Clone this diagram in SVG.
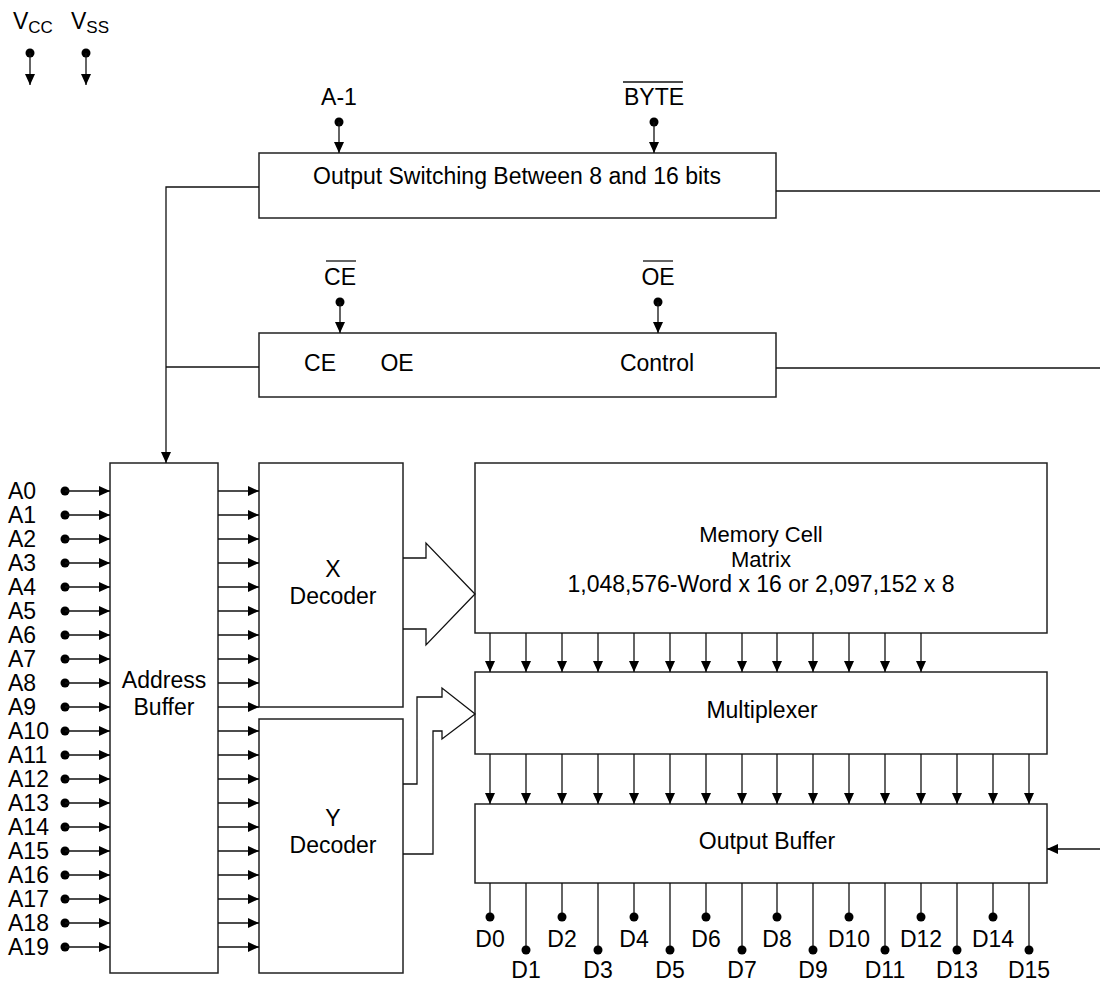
<svg xmlns="http://www.w3.org/2000/svg" width="1100" height="985" viewBox="0 0 1100 985">
<style>
.box{fill:#fff;stroke:#222;stroke-width:1.5}
.ln{fill:none;stroke:#111;stroke-width:1.3}
.ar{fill:none;stroke:#111;stroke-width:1.3;marker-end:url(#ah)}
.dot{fill:#000}
text{font-family:"Liberation Sans",Arial,sans-serif;font-size:23px;fill:#000}
.c{text-anchor:middle}
text.m{font-size:22px}
</style>
<defs>
<marker id="ah" markerUnits="userSpaceOnUse" markerWidth="12" markerHeight="12" viewBox="0 0 12 12" refX="11" refY="6" orient="auto">
<path d="M0,1 L11,6 L0,11 Z" fill="#000"/>
</marker>
</defs>
<rect width="1100" height="985" fill="#fff"/>

<g id="power">
<text x="13" y="29" font-size="25">V<tspan font-size="17" dy="4">CC</tspan></text>
<text x="71" y="29" font-size="25">V<tspan font-size="17" dy="4">SS</tspan></text>
<circle class="dot" cx="30" cy="53" r="4.5"/>
<circle class="dot" cx="86" cy="53" r="4.5"/>
<line class="ar" x1="30" y1="53" x2="30" y2="85"/>
<line class="ar" x1="86" y1="53" x2="86" y2="85"/>
</g>

<g id="output-switching">
<rect class="box" x="259" y="153" width="517" height="65"/>
<text class="c" x="517" y="184">Output Switching Between 8 and 16 bits</text>
<text class="c" x="339" y="105">A-1</text>
<circle class="dot" cx="339" cy="122" r="4.5"/>
<line class="ar" x1="339" y1="122" x2="339" y2="153"/>
<text class="c" x="654" y="105">BYTE</text>
<line class="ln" x1="623" y1="82" x2="683" y2="82"/>
<circle class="dot" cx="654" cy="122" r="4.5"/>
<line class="ar" x1="654" y1="122" x2="654" y2="153"/>
</g>

<g id="control">
<rect class="box" x="259" y="333" width="517" height="64"/>
<text class="c" x="320" y="371">CE</text>
<text class="c" x="397" y="371">OE</text>
<text class="c" x="657" y="371">Control</text>
<text class="c" x="340" y="285">CE</text>
<line class="ln" x1="326" y1="261" x2="356" y2="261"/>
<circle class="dot" cx="340" cy="302" r="4.5"/>
<line class="ar" x1="340" y1="302" x2="340" y2="333"/>
<text class="c" x="658" y="285">OE</text>
<line class="ln" x1="643" y1="261" x2="673" y2="261"/>
<circle class="dot" cx="658" cy="302" r="4.5"/>
<line class="ar" x1="658" y1="302" x2="658" y2="333"/>
</g>

<g id="address-buffer">
<rect class="box" x="110" y="463" width="108" height="510"/>
<text class="c" x="164" y="688">Address</text>
<text class="c" x="164" y="715">Buffer</text>
</g>

<g id="x-decoder">
<rect class="box" x="259" y="463" width="144" height="244"/>
<text class="c" x="333" y="577">X</text>
<text class="c" x="333" y="604">Decoder</text>
</g>

<g id="y-decoder">
<rect class="box" x="259" y="719" width="144" height="254"/>
<text class="c" x="333" y="826">Y</text>
<text class="c" x="333" y="853">Decoder</text>
</g>

<g id="memory-cell">
<rect class="box" x="475" y="463" width="572" height="170"/>
<text class="c m" x="761" y="542">Memory Cell</text>
<text class="c m" x="761" y="567">Matrix</text>
<text class="c" x="761" y="592">1,048,576-Word x 16 or 2,097,152 x 8</text>
</g>

<g id="multiplexer">
<rect class="box" x="475" y="672" width="572" height="82"/>
<text class="c" x="762" y="718">Multiplexer</text>
</g>

<g id="output-buffer">
<rect class="box" x="475" y="804" width="572" height="79"/>
<text class="c" x="767" y="849">Output Buffer</text>
</g>

<g id="address-inputs">
<text x="8" y="499">A0</text>
<text x="8" y="523">A1</text>
<text x="8" y="547">A2</text>
<text x="8" y="571">A3</text>
<text x="8" y="595">A4</text>
<text x="8" y="619">A5</text>
<text x="8" y="643">A6</text>
<text x="8" y="667">A7</text>
<text x="8" y="691">A8</text>
<text x="8" y="715">A9</text>
<text x="8" y="739">A10</text>
<text x="8" y="763">A11</text>
<text x="8" y="787">A12</text>
<text x="8" y="811">A13</text>
<text x="8" y="835">A14</text>
<text x="8" y="859">A15</text>
<text x="8" y="883">A16</text>
<text x="8" y="907">A17</text>
<text x="8" y="931">A18</text>
<text x="8" y="955">A19</text>
<g class="dot">
<circle cx="65" cy="491" r="4.5"/><circle cx="65" cy="515" r="4.5"/><circle cx="65" cy="539" r="4.5"/><circle cx="65" cy="563" r="4.5"/><circle cx="65" cy="587" r="4.5"/><circle cx="65" cy="611" r="4.5"/><circle cx="65" cy="635" r="4.5"/><circle cx="65" cy="659" r="4.5"/><circle cx="65" cy="683" r="4.5"/><circle cx="65" cy="707" r="4.5"/><circle cx="65" cy="731" r="4.5"/><circle cx="65" cy="755" r="4.5"/><circle cx="65" cy="779" r="4.5"/><circle cx="65" cy="803" r="4.5"/><circle cx="65" cy="827" r="4.5"/><circle cx="65" cy="851" r="4.5"/><circle cx="65" cy="875" r="4.5"/><circle cx="65" cy="899" r="4.5"/><circle cx="65" cy="923" r="4.5"/><circle cx="65" cy="947" r="4.5"/>
</g>
</g>

<g id="connectors">
<polyline class="ln" points="259,187 166,187 166,367"/>
<line class="ln" x1="166" y1="367" x2="259" y2="367"/>
<line class="ar" x1="166" y1="367" x2="166" y2="463"/>
<line class="ln" x1="776" y1="191" x2="1100" y2="191"/>
<line class="ln" x1="776" y1="368" x2="1100" y2="368"/>
<line class="ar" x1="1100" y1="849" x2="1047" y2="849"/>
<g class="ar">
<line x1="65" y1="491" x2="110" y2="491"/><line x1="65" y1="515" x2="110" y2="515"/><line x1="65" y1="539" x2="110" y2="539"/><line x1="65" y1="563" x2="110" y2="563"/><line x1="65" y1="587" x2="110" y2="587"/><line x1="65" y1="611" x2="110" y2="611"/><line x1="65" y1="635" x2="110" y2="635"/><line x1="65" y1="659" x2="110" y2="659"/><line x1="65" y1="683" x2="110" y2="683"/><line x1="65" y1="707" x2="110" y2="707"/><line x1="65" y1="731" x2="110" y2="731"/><line x1="65" y1="755" x2="110" y2="755"/><line x1="65" y1="779" x2="110" y2="779"/><line x1="65" y1="803" x2="110" y2="803"/><line x1="65" y1="827" x2="110" y2="827"/><line x1="65" y1="851" x2="110" y2="851"/><line x1="65" y1="875" x2="110" y2="875"/><line x1="65" y1="899" x2="110" y2="899"/><line x1="65" y1="923" x2="110" y2="923"/><line x1="65" y1="947" x2="110" y2="947"/>
</g>
<g class="ar">
<line x1="218" y1="491" x2="259" y2="491"/><line x1="218" y1="515" x2="259" y2="515"/><line x1="218" y1="539" x2="259" y2="539"/><line x1="218" y1="563" x2="259" y2="563"/><line x1="218" y1="587" x2="259" y2="587"/><line x1="218" y1="611" x2="259" y2="611"/><line x1="218" y1="635" x2="259" y2="635"/><line x1="218" y1="659" x2="259" y2="659"/><line x1="218" y1="683" x2="259" y2="683"/><line x1="218" y1="707" x2="259" y2="707"/><line x1="218" y1="731" x2="259" y2="731"/><line x1="218" y1="755" x2="259" y2="755"/><line x1="218" y1="779" x2="259" y2="779"/><line x1="218" y1="803" x2="259" y2="803"/><line x1="218" y1="827" x2="259" y2="827"/><line x1="218" y1="851" x2="259" y2="851"/><line x1="218" y1="875" x2="259" y2="875"/><line x1="218" y1="899" x2="259" y2="899"/><line x1="218" y1="923" x2="259" y2="923"/><line x1="218" y1="947" x2="259" y2="947"/>
</g>
<polyline class="ln" points="403,558 426,558 426,543 475,594 426,645 426,629 403,629"/>
<polyline class="ln" points="403,784 417,784 417,697 442,697 442,688 475,714 442,739 442,731 433,731 433,854 403,854"/>
<g class="ar">
<line x1="490" y1="633" x2="490" y2="672"/><line x1="526" y1="633" x2="526" y2="672"/><line x1="562" y1="633" x2="562" y2="672"/><line x1="598" y1="633" x2="598" y2="672"/><line x1="634" y1="633" x2="634" y2="672"/><line x1="670" y1="633" x2="670" y2="672"/><line x1="706" y1="633" x2="706" y2="672"/><line x1="742" y1="633" x2="742" y2="672"/><line x1="777" y1="633" x2="777" y2="672"/><line x1="813" y1="633" x2="813" y2="672"/><line x1="849" y1="633" x2="849" y2="672"/><line x1="885" y1="633" x2="885" y2="672"/><line x1="921" y1="633" x2="921" y2="672"/>
</g>
<g class="ar">
<line x1="490" y1="754" x2="490" y2="804"/><line x1="526" y1="754" x2="526" y2="804"/><line x1="562" y1="754" x2="562" y2="804"/><line x1="598" y1="754" x2="598" y2="804"/><line x1="634" y1="754" x2="634" y2="804"/><line x1="670" y1="754" x2="670" y2="804"/><line x1="706" y1="754" x2="706" y2="804"/><line x1="742" y1="754" x2="742" y2="804"/><line x1="777" y1="754" x2="777" y2="804"/><line x1="813" y1="754" x2="813" y2="804"/><line x1="849" y1="754" x2="849" y2="804"/><line x1="885" y1="754" x2="885" y2="804"/><line x1="921" y1="754" x2="921" y2="804"/><line x1="957" y1="754" x2="957" y2="804"/><line x1="993" y1="754" x2="993" y2="804"/><line x1="1029" y1="754" x2="1029" y2="804"/>
</g>
<g class="ln">
<line x1="490" y1="883" x2="490" y2="917"/><line x1="526" y1="883" x2="526" y2="950"/><line x1="562" y1="883" x2="562" y2="917"/><line x1="598" y1="883" x2="598" y2="950"/><line x1="634" y1="883" x2="634" y2="917"/><line x1="670" y1="883" x2="670" y2="950"/><line x1="706" y1="883" x2="706" y2="917"/><line x1="742" y1="883" x2="742" y2="950"/><line x1="777" y1="883" x2="777" y2="917"/><line x1="813" y1="883" x2="813" y2="950"/><line x1="849" y1="883" x2="849" y2="917"/><line x1="885" y1="883" x2="885" y2="950"/><line x1="921" y1="883" x2="921" y2="917"/><line x1="957" y1="883" x2="957" y2="950"/><line x1="993" y1="883" x2="993" y2="917"/><line x1="1029" y1="883" x2="1029" y2="950"/>
</g>
</g>

<g id="data-outputs">
<g class="dot">
<circle cx="490" cy="917" r="4.5"/><circle cx="526" cy="950" r="4.5"/><circle cx="562" cy="917" r="4.5"/><circle cx="598" cy="950" r="4.5"/><circle cx="634" cy="917" r="4.5"/><circle cx="670" cy="950" r="4.5"/><circle cx="706" cy="917" r="4.5"/><circle cx="742" cy="950" r="4.5"/><circle cx="777" cy="917" r="4.5"/><circle cx="813" cy="950" r="4.5"/><circle cx="849" cy="917" r="4.5"/><circle cx="885" cy="950" r="4.5"/><circle cx="921" cy="917" r="4.5"/><circle cx="957" cy="950" r="4.5"/><circle cx="993" cy="917" r="4.5"/><circle cx="1029" cy="950" r="4.5"/>
</g>
<text class="c" x="490" y="947">D0</text>
<text class="c" x="526" y="978">D1</text>
<text class="c" x="562" y="947">D2</text>
<text class="c" x="598" y="978">D3</text>
<text class="c" x="634" y="947">D4</text>
<text class="c" x="670" y="978">D5</text>
<text class="c" x="706" y="947">D6</text>
<text class="c" x="742" y="978">D7</text>
<text class="c" x="777" y="947">D8</text>
<text class="c" x="813" y="978">D9</text>
<text class="c" x="849" y="947">D10</text>
<text class="c" x="885" y="978">D11</text>
<text class="c" x="921" y="947">D12</text>
<text class="c" x="957" y="978">D13</text>
<text class="c" x="993" y="947">D14</text>
<text class="c" x="1029" y="978">D15</text>
</g>
</svg>
